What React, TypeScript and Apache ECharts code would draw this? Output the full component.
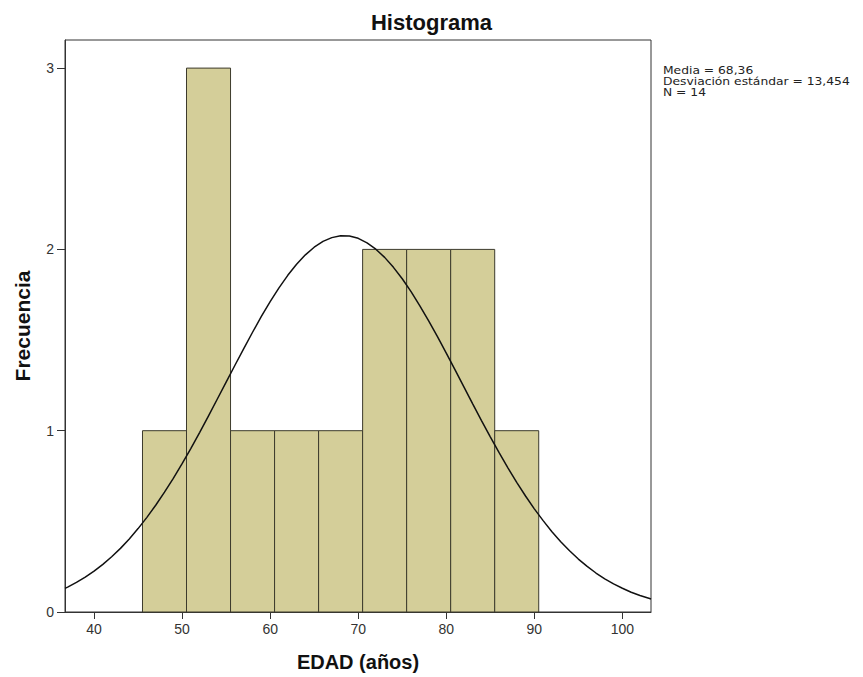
import React, { useEffect, useRef } from "react";
import * as echarts from "echarts";

// Histogram bins (EDAD, años)
const binStart = [45.5, 50.5, 55.5, 60.5, 65.5, 70.5, 75.5, 80.5, 85.5];
const binEnd = [50.5, 55.5, 60.5, 65.5, 70.5, 75.5, 80.5, 85.5, 90.5];
const counts = [1, 3, 1, 1, 1, 2, 2, 2, 1];

// Fitted normal curve (Media 68,36, DE 13,454, N 14)
const curveX = [
  36.7, 37, 38, 39, 40, 41, 42, 43, 44, 45, 46, 47, 48, 49, 50, 51, 52, 53, 54, 55, 56, 57, 58, 59, 60,
  61, 62, 63, 64, 65, 66, 67, 68, 69, 70, 71, 72, 73, 74, 75, 76, 77, 78, 79, 80, 81, 82, 83, 84, 85,
  86, 87, 88, 89, 90, 91, 92, 93, 94, 95, 96, 97, 98, 99, 100, 101, 102, 103, 103.25,
];
const curveY = [
  0.130, 0.137, 0.163, 0.192, 0.225, 0.263, 0.305, 0.351, 0.403, 0.460, 0.522, 0.589, 0.661, 0.737, 0.818,
  0.903, 0.991, 1.082, 1.175, 1.268, 1.361, 1.453, 1.543, 1.630, 1.712, 1.788, 1.857, 1.918, 1.970, 2.012,
  2.044, 2.065, 2.075, 2.074, 2.061, 2.036, 2.001, 1.956, 1.901, 1.838, 1.767, 1.689, 1.606, 1.519, 1.428,
  1.335, 1.242, 1.148, 1.056, 0.966, 0.879, 0.795, 0.715, 0.640, 0.569, 0.504, 0.443, 0.388, 0.338, 0.292,
  0.252, 0.215, 0.183, 0.155, 0.131, 0.109, 0.091, 0.076, 0.072,
];

const xTicks = [40, 50, 60, 70, 80, 90, 100];
const yTicks = [0, 1, 2, 3];

const statsLines = ["Media = 68,36", "Desviación estándar = 13,454", "N = 14"];

export default function App() {
  const ref = useRef<HTMLDivElement>(null);
  useEffect(() => {
    if (!ref.current) return;
    const chart = echarts.init(ref.current, null, { renderer: "svg" });
    const font = "'Liberation Sans', Arial, sans-serif";
    const barData = binStart.map((s, i) => [s, binEnd[i], counts[i]]);
    const lineData = curveX.map((x, i) => [x, curveY[i]]);
    chart.setOption({
      animation: false,
      backgroundColor: "#ffffff",
      title: {
        text: "Histograma",
        left: "center",
        top: 6,
        textStyle: { fontFamily: font, fontSize: 22, fontWeight: "bold", color: "#111" },
      },
      grid: {
        left: 65,
        right: 212,
        top: 40,
        bottom: 65,
        show: true,
        borderColor: "#333",
        borderWidth: 1,
        backgroundColor: "#ffffff",
      },
      xAxis: {
        type: "value",
        min: 36.7,
        max: 103.25,
        name: "EDAD (años)",
        nameLocation: "middle",
        nameGap: 40,
        nameTextStyle: { fontFamily: font, fontSize: 20, fontWeight: "bold", color: "#111" },
        axisLine: { show: true, lineStyle: { color: "#333", width: 1 } },
        axisTick: { show: true, length: 7, customValues: xTicks, lineStyle: { color: "#333" } },
        axisLabel: { customValues: xTicks, fontFamily: font, fontSize: 14, color: "#333", margin: 10 },
        splitLine: { show: false },
      },
      yAxis: {
        type: "value",
        min: 0,
        max: 3.155,
        name: "Frecuencia",
        nameLocation: "middle",
        nameGap: 32,
        nameTextStyle: { fontFamily: font, fontSize: 21, fontWeight: "bold", color: "#111" },
        axisLine: { show: true, lineStyle: { color: "#333", width: 1 } },
        axisTick: { show: true, length: 8, customValues: yTicks, lineStyle: { color: "#333" } },
        axisLabel: { customValues: yTicks, fontFamily: font, fontSize: 14, color: "#333", margin: 11 },
        splitLine: { show: false },
      },
      series: [
        {
          type: "custom",
          data: barData,
          encode: { x: [0, 1], y: 2 },
          renderItem: (_params: any, api: any) => {
            const p0 = api.coord([api.value(0), api.value(2)]);
            const p1 = api.coord([api.value(1), 0]);
            return {
              type: "rect",
              shape: { x: p0[0], y: p0[1], width: p1[0] - p0[0], height: p1[1] - p0[1] },
              style: { fill: "#d4ce99", stroke: "#3c3a2c", lineWidth: 1 },
            };
          },
          z: 2,
        },
        {
          type: "line",
          data: lineData,
          smooth: false,
          showSymbol: false,
          symbol: "none",
          lineStyle: { color: "#111", width: 1.5 },
          z: 3,
        },
      ],
      graphic: [
        {
          type: "text",
          x: 663,
          y: 65,
          scaleX: 1.12,
          style: {
            text: statsLines.join("\n"),
            font: "11px 'DejaVu Sans', sans-serif",
            lineHeight: 11,
            fill: "#222",
          },
        },
      ],
    });
    return () => chart.dispose();
  }, []);
  return <div ref={ref} style={{ position: "fixed", left: 0, top: 0, width: 863, height: 677 }} />;
}
